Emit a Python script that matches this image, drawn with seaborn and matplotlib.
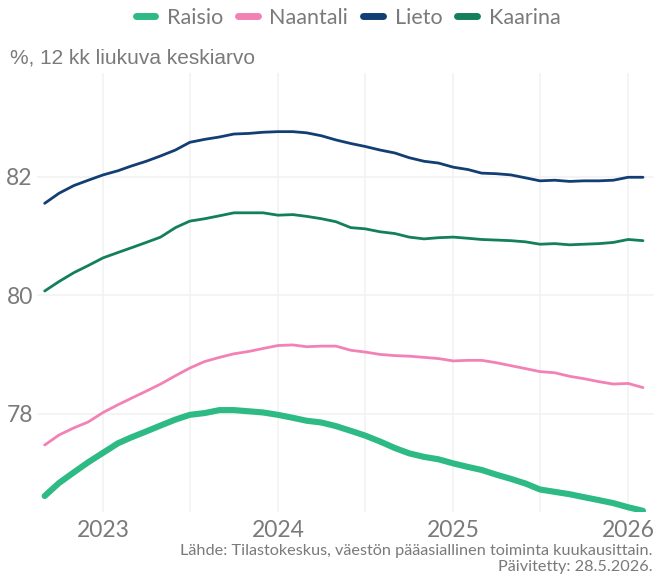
import matplotlib
matplotlib.use('Agg')
import matplotlib.pyplot as plt
import matplotlib.dates as mdates
from matplotlib.lines import Line2D
import seaborn as sns
import pandas as pd
import numpy as np

# Monthly 12-month moving averages, 2022-09 ... 2026-02
months = pd.date_range('2022-09-01', '2026-02-01', freq='MS')

raisio = [76.61, 76.83, 77.01, 77.18, 77.34, 77.50, 77.60, 77.70, 77.80, 77.90,
          77.98, 78.01, 78.06, 78.06, 78.04, 78.02, 77.98, 77.93, 77.88, 77.85,
          77.79, 77.71, 77.63, 77.53, 77.42, 77.33, 77.27, 77.23, 77.16, 77.10,
          77.05, 76.97, 76.90, 76.82, 76.72, 76.68, 76.64, 76.59, 76.54, 76.49,
          76.42, 76.36]
naantali = [77.47, 77.64, 77.76, 77.86, 78.02, 78.15, 78.26, 78.38, 78.50, 78.64,
            78.77, 78.88, 78.95, 79.01, 79.05, 79.10, 79.15, 79.16, 79.13, 79.14,
            79.14, 79.07, 79.04, 79.00, 78.98, 78.97, 78.95, 78.93, 78.89, 78.90,
            78.90, 78.86, 78.81, 78.76, 78.71, 78.69, 78.63, 78.59, 78.54, 78.50,
            78.51, 78.44]
lieto = [81.55, 81.72, 81.85, 81.94, 82.03, 82.10, 82.18, 82.26, 82.35, 82.45,
         82.58, 82.63, 82.67, 82.72, 82.73, 82.75, 82.76, 82.76, 82.74, 82.69,
         82.62, 82.56, 82.51, 82.45, 82.40, 82.32, 82.26, 82.23, 82.16, 82.12,
         82.06, 82.05, 82.03, 81.98, 81.93, 81.94, 81.92, 81.93, 81.93, 81.94,
         81.99, 81.99]
kaarina = [80.07, 80.23, 80.38, 80.50, 80.63, 80.72, 80.80, 80.89, 80.98, 81.14,
           81.25, 81.29, 81.34, 81.39, 81.39, 81.39, 81.35, 81.36, 81.33, 81.29,
           81.24, 81.14, 81.12, 81.07, 81.04, 80.98, 80.95, 80.97, 80.98, 80.96,
           80.94, 80.93, 80.92, 80.90, 80.86, 80.87, 80.85, 80.86, 80.87, 80.89,
           80.94, 80.92]

names = ['Raisio', 'Naantali', 'Lieto', 'Kaarina']
colors = ['#2dba84', '#f282b6', '#123f73', '#137f5b']
widths = [4.4, 2.0, 2.0, 2.0]

df = pd.DataFrame({'kk': months, 'Raisio': raisio, 'Naantali': naantali,
                   'Lieto': lieto, 'Kaarina': kaarina})
long = df.melt(id_vars='kk', var_name='kunta', value_name='arvo')

sns.set_theme(style='white')
plt.rcParams['font.family'] = ['Lato', 'DejaVu Sans']
grey = '#7a7a7a'

fig = plt.figure(figsize=(6.54, 5.79), dpi=100)
ax = fig.add_axes([37 / 654, 67 / 579, 617 / 654, 439 / 579])

for name, col, lw in zip(names, colors, widths):
    sns.lineplot(data=long[long['kunta'] == name], x='kk', y='arvo', ax=ax,
                 color=col, linewidth=lw, legend=False)

ax.set_xlim(pd.Timestamp('2022-08-16'), pd.Timestamp('2026-02-24'))
ax.set_ylim(76.34, 83.75)
ax.set_yticks([78, 80, 82])
ax.xaxis.set_major_locator(mdates.YearLocator())
ax.xaxis.set_major_formatter(mdates.DateFormatter('%Y'))
ax.xaxis.set_minor_locator(mdates.MonthLocator(bymonth=7))
ax.grid(True, which='major', color='#f1f1f1', linewidth=1.1)
ax.grid(True, which='minor', axis='x', color='#f1f1f1', linewidth=1.1)
for s in ax.spines.values():
    s.set_visible(False)
ax.tick_params(axis='both', which='both', length=0, labelsize=16.5,
               labelcolor=grey, pad=6)
ax.tick_params(axis='y', pad=3)
ax.set_xlabel('')
ax.set_ylabel('')

handles = [Line2D([0], [0], color=c, linewidth=5) for c in colors]
leg = fig.legend(handles, names, loc='center', bbox_to_anchor=(348 / 654, 1 - 18 / 579),
                 ncol=4, frameon=False, fontsize=15.5, handlelength=0.9,
                 handletextpad=0.55, columnspacing=0.7)
for t in leg.get_texts():
    t.set_color(grey)

fig.text(10 / 654, 1 - 58 / 579, '%, 12 kk liukuva keskiarvo', fontsize=15,
         color=grey, family='Liberation Sans', va='center', ha='left')

fig.text(653 / 654, 1 - 551 / 579,
         'Lähde: Tilastokeskus, väestön pääasiallinen toiminta kuukausittain.',
         ha='right', va='center', fontsize=11.7, color=grey)
fig.text(653 / 654, 1 - 567 / 579, 'Päivitetty: 28.5.2026.',
         ha='right', va='center', fontsize=11.7, color=grey)

fig.savefig('out.png', dpi=100)
plt.close(fig)
